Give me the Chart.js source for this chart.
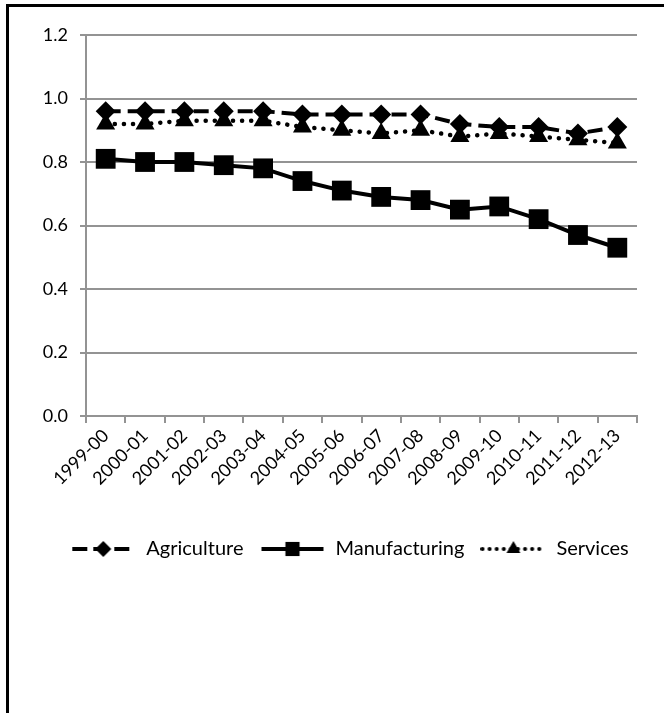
<!DOCTYPE html>
<html>
<head>
<meta charset="utf-8">
<title>Sector index</title>
<script src="https://cdn.jsdelivr.net/npm/chart.js@4"></script>
<style>
  html, body { margin: 0; padding: 0; background: #fff; overflow: hidden; }
  #frame { position: absolute; left: 6px; top: 4px; width: 700px; height: 720px;
           border-top: 3px solid #000; border-left: 3px solid #000; }
  #wrap { position: absolute; left: 0; top: 0; width: 664px; height: 713px; }
</style>
</head>
<body>
<div id="frame"></div>
<div id="wrap"><canvas id="sectorChart"></canvas></div>
<script>
const years = ['1999-00', '2000-01', '2001-02', '2002-03', '2003-04', '2004-05', '2005-06',
               '2006-07', '2007-08', '2008-09', '2009-10', '2010-11', '2011-12', '2012-13'];
const agriculture   = [0.96, 0.96, 0.96, 0.96, 0.96, 0.95, 0.95, 0.95, 0.95, 0.92, 0.91, 0.91, 0.89, 0.91];
const manufacturing = [0.81, 0.80, 0.80, 0.79, 0.78, 0.74, 0.71, 0.69, 0.68, 0.65, 0.66, 0.62, 0.57, 0.53];
const services      = [0.92, 0.92, 0.93, 0.93, 0.93, 0.91, 0.90, 0.89, 0.90, 0.88, 0.89, 0.88, 0.87, 0.86];
const yMin = 0, yMax = 1.2, yStep = 0.2;

const FONT = 'Lato, "Open Sans", sans-serif';
const GRID = '#939393';

// small line + marker swatch for the legend
function legendIcon(dash, cap, style, radius) {
  const c = document.createElement('canvas');
  c.width = 66; c.height = 24;
  const ctx = c.getContext('2d');
  ctx.strokeStyle = '#000';
  ctx.lineWidth = 4;
  ctx.lineCap = cap;
  ctx.setLineDash(dash);
  ctx.beginPath();
  ctx.moveTo(2, 12);
  ctx.lineTo(64, 12);
  ctx.stroke();
  ctx.setLineDash([]);
  ctx.fillStyle = '#000';
  Chart.helpers.drawPoint(ctx, {pointStyle: style, radius: radius, rotation: 0, borderWidth: 0}, 33, 12);
  return c;
}

const icons = [
  legendIcon([15, 6], 'butt', 'rectRot', 8),
  legendIcon([], 'butt', 'rect', 10),
  legendIcon([0.1, 7], 'round', 'triangle', 8)
];

// nudge the legend row to the right, under the plot
const legendShift = {
  id: 'legendShift',
  afterUpdate(chart) {
    chart.legend.left += 31;
    chart.legend.right += 31;
  }
};

new Chart(document.getElementById('sectorChart').getContext('2d'), {
  type: 'line',
  data: {
    labels: years,
    datasets: [{
      label: 'Agriculture',
      data: agriculture,
      borderColor: '#000',
      backgroundColor: '#000',
      borderWidth: 4,
      borderDash: [15, 7],
      pointStyle: 'rectRot',
      pointRadius: 10,
      pointBorderWidth: 0
    }, {
      label: 'Manufacturing',
      data: manufacturing,
      borderColor: '#000',
      backgroundColor: '#000',
      borderWidth: 4,
      pointStyle: 'rect',
      pointRadius: 14,
      pointBorderWidth: 0
    }, {
      label: 'Services',
      data: services,
      borderColor: '#000',
      backgroundColor: '#000',
      borderWidth: 4.5,
      borderDash: [0.1, 9],
      borderCapStyle: 'round',
      pointStyle: 'triangle',
      pointRadius: 11,
      pointBorderWidth: 0
    }]
  },
  plugins: [legendShift],
  options: {
    responsive: true,
    maintainAspectRatio: false,
    animation: false,
    layout: { padding: { top: 35, right: 27, left: 0, bottom: 144 } },
    plugins: {
      tooltip: { enabled: false },
      legend: {
        position: 'bottom',
        labels: {
          usePointStyle: true,
          pointStyleWidth: 66,
          padding: 16,
          color: '#000',
          font: { family: FONT, size: 20 },
          generateLabels: chart => {
            const items = Chart.defaults.plugins.legend.labels.generateLabels(chart);
            items.forEach((item, i) => { item.pointStyle = icons[i]; });
            return items;
          }
        }
      }
    },
    scales: {
      x: {
        offset: true,
        afterFit: scale => { scale.height = 107; },
        grid: { display: true, offset: true, drawOnChartArea: false, color: GRID, lineWidth: 2, tickLength: 7 },
        border: { color: GRID, width: 2 },
        ticks: { color: '#000', font: { family: FONT, size: 18 }, maxRotation: 45, minRotation: 45, padding: 2, autoSkip: false }
      },
      y: {
        min: yMin,
        max: yMax,
        afterFit: scale => { scale.width = 86; },
        grid: { color: GRID, lineWidth: 2, tickLength: 6 },
        border: { color: GRID, width: 2 },
        ticks: {
          stepSize: yStep,
          padding: 12,
          color: '#000',
          font: { family: FONT, size: 18 },
          callback: v => v.toFixed(1)
        }
      }
    }
  }
});
</script>
</body>
</html>
